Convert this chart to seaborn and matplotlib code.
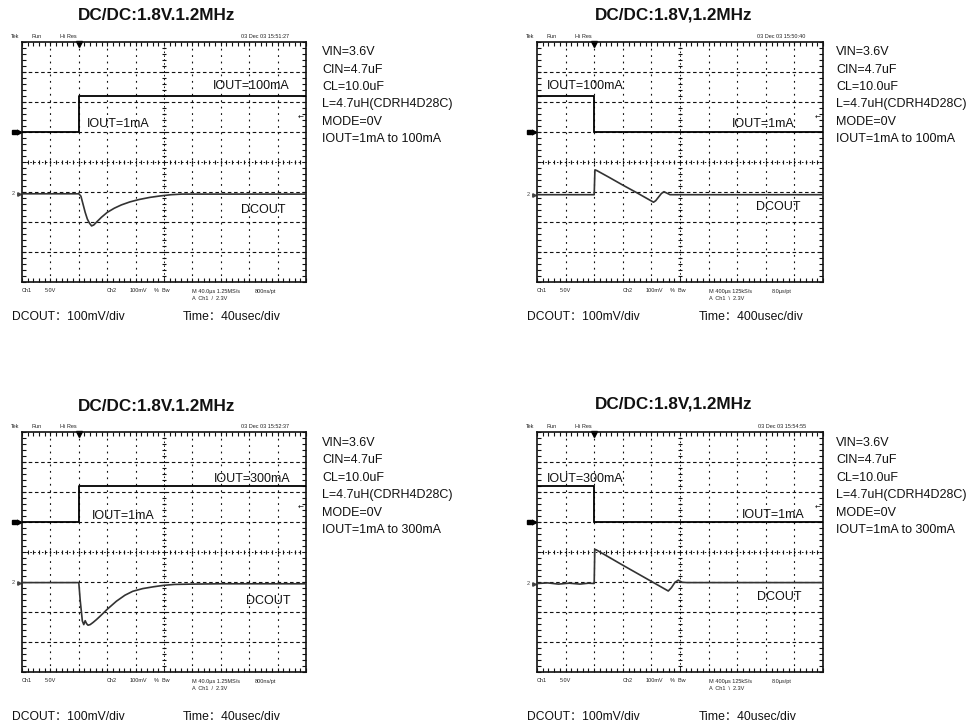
import numpy as np
import pandas as pd
import matplotlib
matplotlib.use("Agg")
import matplotlib.pyplot as plt
import seaborn as sns

sns.set_theme(style="white")
plt.rcParams["font.family"] = ["Liberation Sans", "Noto Sans CJK SC", "DejaVu Sans"]

W, H = 969, 726

titles = ["DC/DC:1.8V.1.2MHz", "DC/DC:1.8V,1.2MHz", "DC/DC:1.8V.1.2MHz", "DC/DC:1.8V,1.2MHz"]
stamps = ["03 Dec 03 15:51:27", "03 Dec 03 15:50:40", "03 Dec 03 15:52:37", "03 Dec 03 15:54:55"]
time_per_div = [40, 400, 40, 400]          # us / div
horiz_setup = ["M 40.0µs 1.25MS/s", "M 400µs 125kS/s", "M 40.0µs 1.25MS/s", "M 400µs 125kS/s"]
record_rate = ["800ns/pt", "8.0µs/pt", "800ns/pt", "8.0µs/pt"]
trig_slope = ["/", "\\", "/", "\\"]
trig_level_v = 2.3
ch1_v_per_div = 5.0
ch2_mv_per_div = 100.0

iout_before = ["IOUT=1mA", "IOUT=100mA", "IOUT=1mA", "IOUT=300mA"]
iout_after = ["IOUT=100mA", "IOUT=1mA", "IOUT=300mA", "IOUT=1mA"]
ch1_before_v = [0.0, 6.0, 0.0, 6.0]
ch1_after_v = [6.0, 0.0, 6.0, 0.0]

conditions_100 = ["VIN=3.6V", "CIN=4.7uF", "CL=10.0uF", "L=4.7uH(CDRH4D28C)",
                  "MODE=0V", "IOUT=1mA to 100mA"]
conditions_300 = ["VIN=3.6V", "CIN=4.7uF", "CL=10.0uF", "L=4.7uH(CDRH4D28C)",
                  "MODE=0V", "IOUT=1mA to 300mA"]
conditions = [conditions_100, conditions_100, conditions_300, conditions_300]

volt_footer = "DCOUT：100mV/div"
time_footer = ["Time：40usec/div", "Time：400usec/div", "Time：40usec/div", "Time：40usec/div"]

# DCOUT deviation (mV) vs time from trigger (us)
t_up100 = [-80, 0, 3, 6, 9, 12, 15, 18, 21, 26, 32, 40, 50, 60, 72, 85, 100, 115, 130, 145, 320]
mv_up100 = [0, 0, -8, -35, -62, -84, -98, -107, -104, -92, -78, -62, -48, -37, -27, -19, -12, -7, -3, -1, -1]

t_down100 = [-800, 0, 10, 40, 200, 400, 600, 800, 830, 860, 900, 940, 976, 1010, 1060, 3200]
mv_down100 = [0, 0, 83, 80, 59, 32, 6, -21, -25, -20, -8, 4, 10, 6, 0, 0]

t_up300 = [-80, 0, 2, 5, 7, 9, 11, 13, 16, 20, 25, 30, 40, 53, 65, 76, 90, 105, 120, 135, 160, 200, 320]
mv_up300 = [0, 0, -60, -128, -140, -127, -137, -142, -140, -133, -123, -112, -89, -62, -42, -29, -20, -14, -9, -6, -5, -4, -4]

t_down300 = [-800, -650, -500, -350, -200, -80, 0, 8, 30, 400, 800, 1036, 1080, 1130, 1176, 1230, 1300, 3200]
mv_down300 = [0, 2, -2, 1, -2, 1, 0, 114, 112, 61, 7, -25, -14, 4, 11, 4, 3, 3]

dc_t = [t_up100, t_down100, t_up300, t_down300]
dc_mv = [mv_up100, mv_down100, mv_up300, mv_down300]

# vertical position knobs of the scope (divisions from centre)
ch1_pos = [1.0, 1.0, 1.0, 1.0]
ch2_pos = [-1.06, -1.09, -1.02, -1.05]

# label anchors in screen divisions (x 0..10, y -4..4)
lab_after = [(6.73, 2.55), (6.8, 1.27), (6.75, 2.45), (7.17, 1.22)]
lab_before = [(2.3, 1.28), (0.35, 2.55), (2.45, 1.19), (0.35, 2.45)]
lab_dcout = [(7.71, -1.6), (7.65, -1.5), (7.9, -1.63), (7.7, -1.5)]

# ---------------- layout (pixels) ----------------
grid_left = [22, 537]
grid_width = [284, 286]
grid_top = [42, 432]
grid_h = 240
title_y = [15.5, 15.5, 407, 404]
title_x = [157, 674]
cond_x = [322, 836]
cond_y0 = [52.3, 52.3, 443, 443]
cond_step = 17.4
foot_y = [317, 317, 717, 717]
foot_x = [(12, 183), (527, 699)]

fig = plt.figure(figsize=(W / 100, H / 100), dpi=100)
fig.patch.set_facecolor("white")


def rect_of(i):
    c, r = i % 2, i // 2
    return [grid_left[c] / W, 1 - (grid_top[r] + grid_h) / H, grid_width[c] / W, grid_h / H]


def draw_graticule(ax):
    ax.set_xlim(0, 10)
    ax.set_ylim(-4, 4)
    ax.set_facecolor("white")
    for k in range(1, 10):
        if k != 5:
            ax.axvline(k, color="#111", lw=0.8, ls=(0, (1.6, 4.2)))
    for k in range(-3, 4):
        if k != 0:
            ax.axhline(k, color="#111", lw=0.8, ls=(0, (3.2, 2.4)))
    ax.axhline(0, color="#111", lw=0.7, ls=(0, (1.6, 2.4)))
    ax.axvline(5, color="#111", lw=0.7, ls=(0, (1.6, 2.4)))
    mx = np.arange(0.2, 10, 0.2)
    my = np.arange(-3.8, 4, 0.2)
    ax.plot(mx, np.zeros_like(mx), ls="none", marker="|", ms=3.5, mew=0.8, color="#111")
    ax.plot(np.full_like(my, 5), my, ls="none", marker="_", ms=3.5, mew=0.8, color="#111")
    ax.set_xticks(np.arange(0, 10.01, 1))
    ax.set_yticks(np.arange(-4, 4.01, 1))
    ax.set_xticks(np.arange(0, 10.01, 0.2), minor=True)
    ax.set_yticks(np.arange(-4, 4.01, 0.2), minor=True)
    ax.tick_params(which="both", direction="in", length=3, width=0.8, color="#111",
                   top=True, bottom=True, left=True, right=True,
                   labelbottom=False, labelleft=False)
    for s in ax.spines.values():
        s.set_color("#111")
        s.set_linewidth(1.2)
    ax.grid(False)


small = dict(fontsize=4, color="#222")

for i in range(4):
    c, r = i % 2, i // 2
    rect = rect_of(i)
    tdiv = time_per_div[i]
    t0, t1 = -2 * tdiv, 8 * tdiv

    ax = fig.add_axes(rect, label=f"grid{i}")
    draw_graticule(ax)

    # channel 1 (load step control) on its own scale
    a1 = fig.add_axes(rect, label=f"ch1_{i}")
    a1.set_xlim(t0, t1)
    a1.set_ylim((-4 - ch1_pos[i]) * ch1_v_per_div, (4 - ch1_pos[i]) * ch1_v_per_div)
    ch1 = pd.DataFrame({"t": [t0, 0, 0, t1],
                        "v": [ch1_before_v[i], ch1_before_v[i], ch1_after_v[i], ch1_after_v[i]]})
    sns.lineplot(data=ch1, x="t", y="v", ax=a1, color="black", lw=1.3,
                 estimator=None, sort=False, legend=False)
    a1.axis("off")

    # channel 2 (DCOUT ripple) on its own scale
    a2 = fig.add_axes(rect, label=f"ch2_{i}")
    a2.set_xlim(t0, t1)
    a2.set_ylim((-4 - ch2_pos[i]) * ch2_mv_per_div, (4 - ch2_pos[i]) * ch2_mv_per_div)
    ch2 = pd.DataFrame({"t": dc_t[i], "mv": dc_mv[i]})
    sns.lineplot(data=ch2, x="t", y="mv", ax=a2, color="#333", lw=1.2,
                 estimator=None, sort=False, legend=False)
    a2.axis("off")

    # labels on the screen
    ax.text(*lab_after[i], iout_after[i], fontsize=9, va="center", ha="left", color="#111")
    ax.text(*lab_before[i], iout_before[i], fontsize=9, va="center", ha="left", color="#111")
    ax.text(*lab_dcout[i], "DCOUT", fontsize=9, va="center", ha="left", color="#111")

    # scope markers
    ax.plot([-0.28], [ch1_pos[i]], marker="s", ms=3.5, color="black", clip_on=False)
    ax.plot([-0.12], [ch1_pos[i]], marker=">", ms=3.5, color="black", clip_on=False)
    ax.text(-0.3, ch2_pos[i], "2", fontsize=4, color="#444", va="center", ha="center")
    ax.plot([-0.1], [ch2_pos[i]], marker=">", ms=2.5, color="#444", clip_on=False)
    ax.text(9.82, ch1_pos[i] + trig_level_v / ch1_v_per_div, "←", fontsize=5,
            va="center", ha="center", family="DejaVu Sans", color="#111")
    ax.plot([2], [3.93], marker="v", ms=4, color="black", clip_on=False)

    # scope header / footer
    ax.text(-0.4, 4.2, "Tek", va="center", ha="left", **small)
    ax.text(0.34, 4.2, "Run", va="center", ha="left", **small)
    ax.text(1.34, 4.2, "Hi Res", va="center", ha="left", **small)
    ax.text(9.4, 4.2, stamps[i], va="center", ha="right", **small)
    ax.text(0.0, -4.3, "Ch1", va="center", ha="left", **small)
    ax.text(0.8, -4.3, "5.0V", va="center", ha="left", **small)
    ax.text(3.0, -4.3, "Ch2", va="center", ha="left", **small)
    ax.text(3.8, -4.3, "100mV", va="center", ha="left", **small)
    ax.text(4.65, -4.3, "%  Bw", va="center", ha="left", **small)
    ax.text(6.0, -4.3, horiz_setup[i], va="center", ha="left", **small)
    ax.text(8.2, -4.3, record_rate[i], va="center", ha="left", **small)
    ax.text(6.0, -4.55, f"A  Ch1  {trig_slope[i]}  2.3V", va="center", ha="left", **small)

    # title, test conditions, footer
    fig.text(title_x[c] / W, 1 - title_y[i] / H, titles[i], fontsize=12.3,
             fontweight="bold", ha="center", va="center", color="#111")
    for k, line in enumerate(conditions[i]):
        fig.text(cond_x[c] / W, 1 - (cond_y0[i] + k * cond_step) / H, line,
                 fontsize=9, ha="left", va="center", color="#111")
    fig.text(foot_x[c][0] / W, 1 - foot_y[i] / H, volt_footer, fontsize=8.7,
             ha="left", va="center", color="#111")
    fig.text(foot_x[c][1] / W, 1 - foot_y[i] / H, time_footer[i], fontsize=8.8,
             ha="left", va="center", color="#111")

fig.savefig("out.png", dpi=100, facecolor="white")
